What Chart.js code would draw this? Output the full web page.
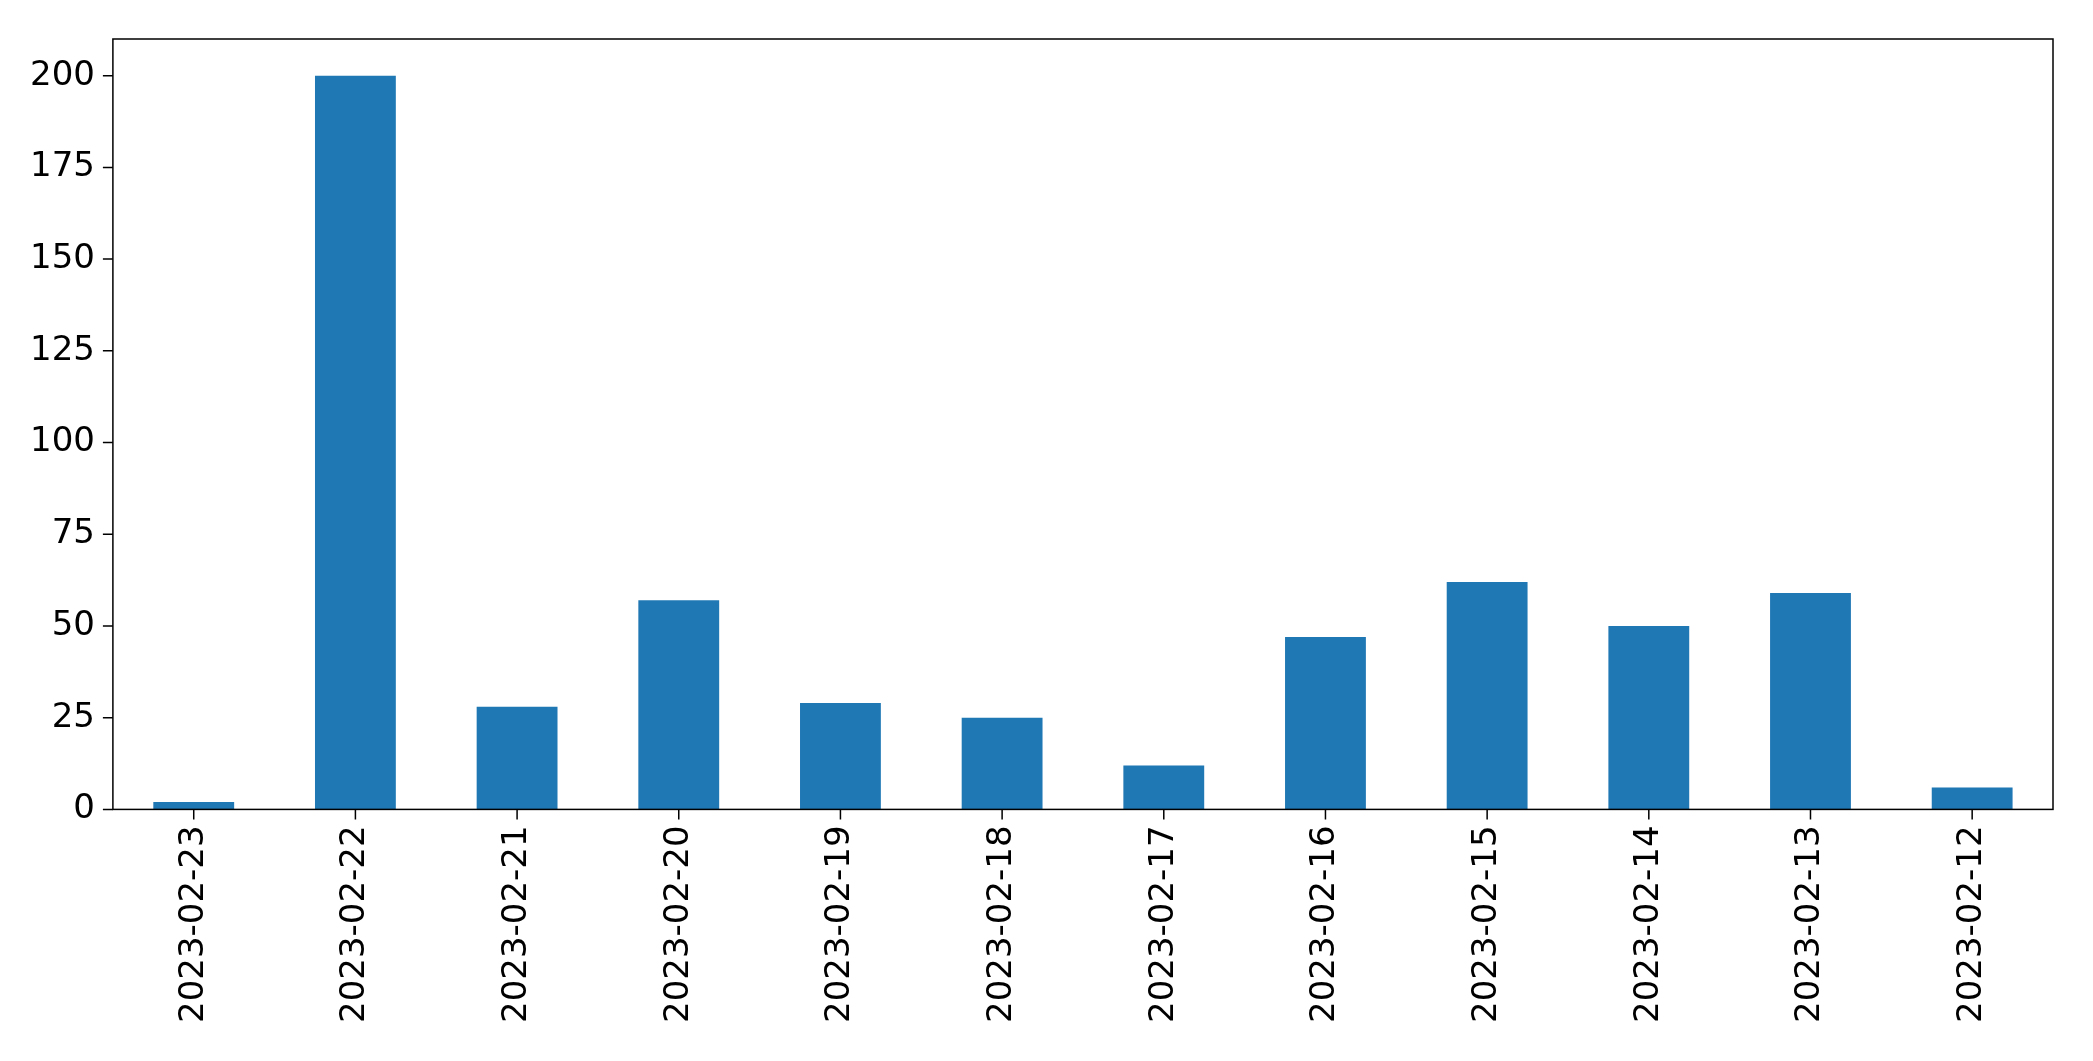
<!DOCTYPE html>
<html><head><meta charset="utf-8">
<script src="https://cdn.jsdelivr.net/npm/chart.js@4/dist/chart.umd.min.js"></script>
<style>html,body{margin:0;padding:0;background:#fff}#w{width:2093px;height:1061px}</style>
</head><body><div id="w"><canvas id="c"></canvas></div>
<script>
const categories = ["2023-02-23","2023-02-22","2023-02-21","2023-02-20","2023-02-19","2023-02-18","2023-02-17","2023-02-16","2023-02-15","2023-02-14","2023-02-13","2023-02-12"];
const values = [2,200,28,57,29,25,12,47,62,50,59,6];
const yTicks = [0,25,50,75,100,125,150,175,200];
const frame = {id:'frame',afterDraw(ch){const a=ch.chartArea,x=ch.ctx;x.save();x.strokeStyle='#000';x.lineWidth=1.5;x.strokeRect(a.left,a.top,a.right-a.left,a.bottom-a.top);x.restore();}};
new Chart(document.getElementById('c'),{
  type:'bar',
  data:{labels:categories,datasets:[{data:values,backgroundColor:'#1f77b4',categoryPercentage:1,barPercentage:0.5}]},
  options:{responsive:true,maintainAspectRatio:false,animation:false,
    layout:{padding:{top:39,right:40,bottom:30,left:20}},
    plugins:{legend:{display:false},tooltip:{enabled:false}},
    scales:{
      x:{grid:{display:false,drawTicks:true},border:{display:false},
        ticks:{color:'#000',font:{family:'DejaVu Sans',size:34},maxRotation:90,minRotation:90,autoSkip:false,padding:8}},
      y:{min:0,max:210,grid:{display:false},border:{display:false},
        afterBuildTicks(s){s.ticks=yTicks.map(v=>({value:v}));},
        ticks:{color:'#000',font:{family:'DejaVu Sans',size:34},padding:10}}
    }},
  plugins:[frame,{id:'tk',afterDraw(ch){const c=ch.ctx,y=ch.scales.y,x=ch.scales.x,a=ch.chartArea;c.save();c.strokeStyle='#000';c.lineWidth=1.5;c.beginPath();
    yTicks.forEach(v=>{const p=y.getPixelForValue(v);c.moveTo(a.left-10,p);c.lineTo(a.left,p);});
    categories.forEach((_,i)=>{const p=x.getPixelForValue(i);c.moveTo(p,a.bottom);c.lineTo(p,a.bottom+10);});
    c.stroke();c.restore();}}]
});
</script></body></html>
